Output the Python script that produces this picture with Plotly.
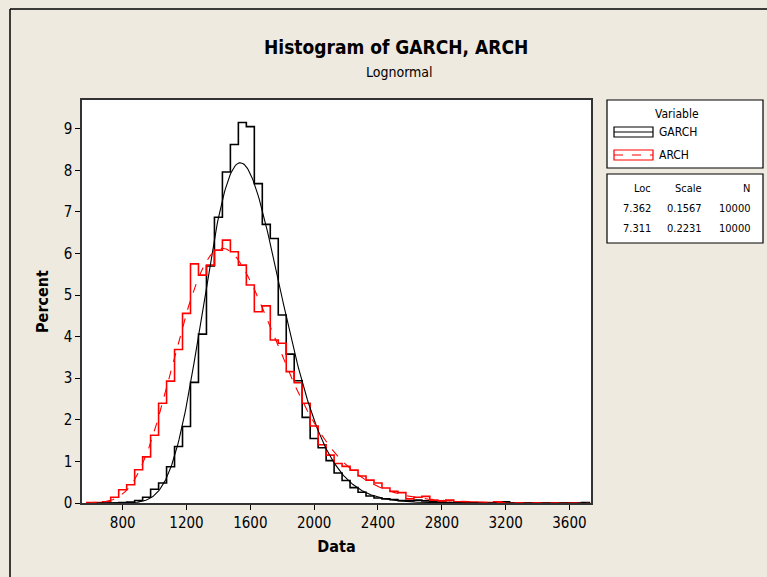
import numpy as np
import plotly.graph_objects as go

# ── Data (percent per 50-wide bin) ───────────────────────────────
BIN_WIDTH = 50

GARCH_START = 775   # left edge of first GARCH bin
GARCH_PCT = [
    0.01, 0.02, 0.06, 0.14, 0.33, 0.48, 0.87, 1.36, 1.84, 2.90,   # 800-1250
    4.06, 5.70, 6.87, 7.96, 8.62, 9.15, 9.05, 7.68, 6.70, 6.36,   # 1300-1750
    4.52, 3.58, 2.94, 2.06, 1.55, 1.33, 1.02, 0.72, 0.54, 0.37,   # 1800-2250
    0.26, 0.17, 0.12, 0.10, 0.08, 0.06, 0.05, 0.07, 0.05, 0.03,   # 2300-2750
    0.02, 0.01, 0.01, 0.01, 0.00, 0.00, 0.00, 0.00, 0.03, 0.00,   # 2800-3250
    0.00, 0.00, 0.00, 0.00, 0.00, 0.00, 0.00, 0.00, 0.01,         # 3300-3700
]

ARCH_START = 575
ARCH_PCT = [
    0.01, 0.01, 0.03, 0.14, 0.32, 0.44, 0.80, 1.11, 1.63, 2.40,   # 600-1050
    2.93, 3.69, 4.56, 5.75, 5.48, 5.72, 6.08, 6.32, 6.04, 5.72,   # 1100-1550
    5.24, 4.60, 4.74, 3.92, 3.84, 3.16, 2.89, 2.40, 1.85, 1.40,   # 1600-2050
    1.15, 0.95, 0.88, 0.79, 0.65, 0.55, 0.48, 0.36, 0.28, 0.25,   # 2100-2550
    0.10, 0.14, 0.16, 0.07, 0.05, 0.07, 0.03, 0.02, 0.02, 0.01,   # 2600-3050
    0.01, 0.03, 0.00, 0.00, 0.00, 0.00, 0.00, 0.00, 0.00, 0.00,   # 3100-3550
    0.00, 0.00,                                                   # 3600-3650
]

SERIES = ["GARCH", "ARCH"]
LOC = [7.362, 7.311]
SCALE = [0.1567, 0.2231]
N_OBS = [10000, 10000]

X_TICKS = [800, 1200, 1600, 2000, 2400, 2800, 3200, 3600]
Y_TICKS = list(range(0, 10))

# ── Style ────────────────────────────────────────────────────────
PAPER_BG = "#EEEAE0"
FONT = "DejaVu Sans Condensed, DejaVu Sans, sans-serif"
COLORS = {"GARCH": "#000000", "ARCH": "#FF0000"}

# plot-area box in window pixels
L, R, T, B = 82, 591, 100, 503
W, H = 767, 577


def px(x):
    return (x - L) / (R - L)


def py(y):
    return (B - y) / (B - T)


def step_xy(start, pct):
    edges = [start + BIN_WIDTH * i for i in range(len(pct) + 1)]
    ys = [0] + list(pct) + [0]
    xs = [edges[0]] + edges
    return xs, ys


def lognormal_pct(x, mu, sigma):
    pdf = np.exp(-(np.log(x) - mu) ** 2 / (2 * sigma ** 2)) / (x * sigma * np.sqrt(2 * np.pi))
    return pdf * BIN_WIDTH * 100


def note(text, x, y, size, xanchor="center", **kw):
    return dict(text=text, x=px(x), y=py(y), xref="paper", yref="paper", showarrow=False,
                xanchor=xanchor, yanchor="middle", font=dict(size=size, color="#000000"), **kw)


fig = go.Figure()

# histogram outlines
for name, start, pct in [("GARCH", GARCH_START, GARCH_PCT), ("ARCH", ARCH_START, ARCH_PCT)]:
    xs, ys = step_xy(start, pct)
    fig.add_trace(go.Scatter(
        x=xs, y=ys, mode="lines", name=name,
        line=dict(color=COLORS[name], width=1.6, shape="hv"),
        hoverinfo="skip", showlegend=False,
    ))

# fitted lognormal curves
xfit = np.linspace(580, 3720, 500)
for i, name in enumerate(SERIES):
    fig.add_trace(go.Scatter(
        x=xfit, y=lognormal_pct(xfit, LOC[i], SCALE[i]), mode="lines",
        line=dict(color=COLORS[name], width=1.1, dash="solid" if name == "GARCH" else "dash"),
        hoverinfo="skip", showlegend=False,
    ))

anns = []
shapes = []

# titles
anns.append(note("<b>Histogram of GARCH, ARCH</b>", 396, 47, 19))
anns.append(note("Lognormal", 399, 72, 14))

# outer frame of the graph window
shapes.append(dict(type="line", xref="paper", yref="paper", x0=px(10), x1=px(10), y0=py(9), y1=py(600),
                   line=dict(color="#000000", width=1.5)))
shapes.append(dict(type="line", xref="paper", yref="paper", x0=px(10), x1=px(800), y0=py(9), y1=py(9),
                   line=dict(color="#000000", width=1.5)))

# legend box
shapes.append(dict(type="rect", xref="paper", yref="paper", x0=px(607), x1=px(763), y0=py(100), y1=py(168),
                   line=dict(color="#000000", width=1.2), fillcolor="#FFFFFF"))
anns.append(note("Variable", 677, 114, 12))
for k, name in enumerate(SERIES):
    yc = 132 + 23 * k
    shapes.append(dict(type="rect", xref="paper", yref="paper", x0=px(614), x1=px(653), y0=py(yc - 5),
                       y1=py(yc + 5), line=dict(color=COLORS[name], width=1.2)))
    shapes.append(dict(type="line", xref="paper", yref="paper", x0=px(614), x1=px(653), y0=py(yc), y1=py(yc),
                       line=dict(color=COLORS[name], width=1.2, dash="solid" if name == "GARCH" else "dash")))
    anns.append(note(name, 657, yc, 12, xanchor="left"))

# parameter table box
shapes.append(dict(type="rect", xref="paper", yref="paper", x0=px(607), x1=px(763), y0=py(174), y1=py(243),
                   line=dict(color="#000000", width=1.2), fillcolor="#FFFFFF"))
cols = [("Loc", 653), ("Scale", 704), ("N", 752)]
for label, xr in cols:
    anns.append(note(label, xr, 188, 11, xanchor="right"))
for k in range(len(SERIES)):
    row = [f"{LOC[k]:.3f}", f"{SCALE[k]:.4f}", f"{N_OBS[k]}"]
    for (label, xr), txt in zip(cols, row):
        anns.append(note(txt, xr, 208 + 20 * k, 11, xanchor="right"))

fig.update_layout(
    width=W, height=H,
    margin=dict(l=L, r=W - R, t=T, b=H - B, pad=0),
    paper_bgcolor=PAPER_BG, plot_bgcolor="#FFFFFF",
    font=dict(family=FONT, size=13, color="#000000"),
    showlegend=False,
    annotations=anns, shapes=shapes,
    xaxis=dict(
        range=[545, 3735], tickvals=X_TICKS, ticks="outside", ticklen=5, tickcolor="#000000",
        showgrid=False, zeroline=False, showline=True, linecolor="#333333", linewidth=1.5, mirror=True,
        tickfont=dict(size=15),
        title=dict(text="<b>Data</b>", font=dict(size=16), standoff=10),
    ),
    yaxis=dict(
        range=[0, 9.69], tickvals=Y_TICKS, ticks="outside", ticklen=5, tickcolor="#000000",
        showgrid=False, zeroline=False, showline=True, linecolor="#333333", linewidth=1.5, mirror=True,
        tickfont=dict(size=15),
        title=dict(text="<b>Percent</b>", font=dict(size=16), standoff=11),
    ),
)

# drop the default page margin so the figure fills the window exactly
fig.write_html(
    "out.html",
    config={"displayModeBar": False},
    post_script="document.body.style.margin='0';document.body.style.background='%s';" % PAPER_BG,
)
